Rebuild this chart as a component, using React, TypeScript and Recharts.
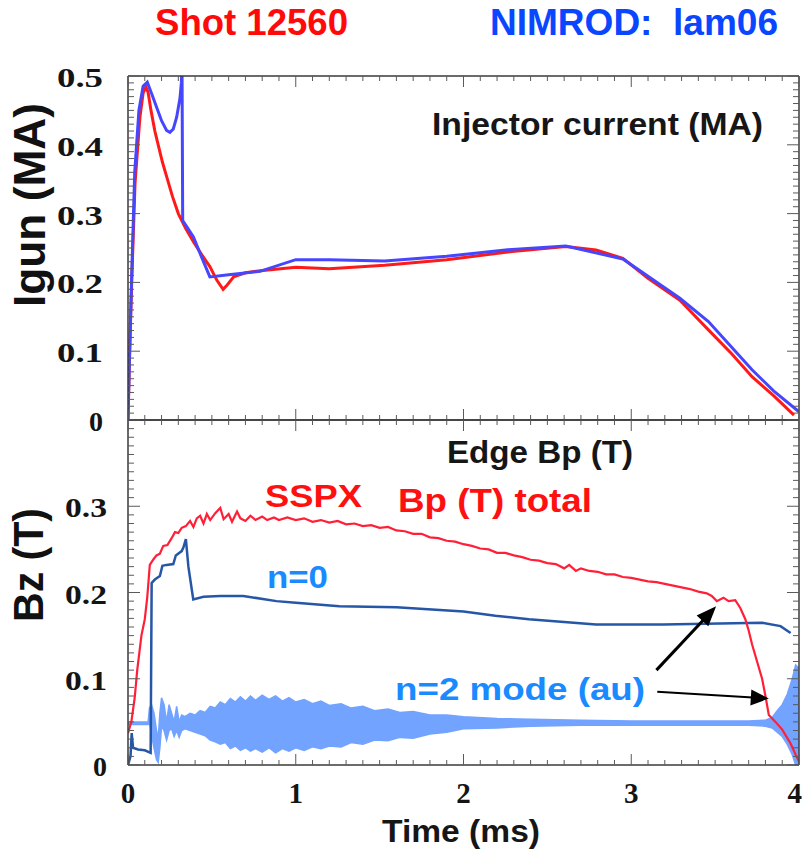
import React from 'react';
import { ComposedChart, Line, Area, XAxis, YAxis, ReferenceLine } from 'recharts';

// ---- Injector current (MA) vs time (ms) ----
const IGUN_SHOT: [number, number][] = [
  [0, 0], [0.01, 0.1], [0.022, 0.2], [0.042, 0.344], [0.071, 0.44], [0.09, 0.475],
  [0.107, 0.484], [0.12, 0.476], [0.137, 0.45], [0.16, 0.42], [0.18, 0.4], [0.205, 0.375],
  [0.23, 0.354], [0.265, 0.325], [0.3, 0.3], [0.345, 0.278], [0.39, 0.259], [0.44, 0.24],
  [0.488, 0.223], [0.53, 0.203], [0.567, 0.19], [0.59, 0.196], [0.63, 0.208], [0.7, 0.214],
  [0.79, 0.217], [1.0, 0.222], [1.2, 0.22], [1.53, 0.225], [1.9, 0.233], [2.29, 0.245],
  [2.61, 0.252], [2.79, 0.247], [2.95, 0.235], [3.1, 0.206], [3.29, 0.174], [3.46, 0.131],
  [3.6, 0.096], [3.72, 0.063], [3.85, 0.035], [3.97, 0.007],
];

const IGUN_NIMROD: [number, number][] = [
  [0, 0], [0.01, 0.1], [0.022, 0.21], [0.04, 0.36], [0.065, 0.45], [0.09, 0.485],
  [0.115, 0.491], [0.14, 0.475], [0.17, 0.455], [0.2, 0.435], [0.23, 0.421], [0.25, 0.418],
  [0.27, 0.423], [0.29, 0.44], [0.31, 0.468], [0.318, 0.49], [0.322, 0.52], [0.326, 0.29],
  [0.35, 0.281], [0.39, 0.266], [0.44, 0.236], [0.488, 0.208], [0.6, 0.211], [0.786, 0.216],
  [1.0, 0.233], [1.2, 0.233], [1.53, 0.231], [1.9, 0.238], [2.29, 0.248], [2.61, 0.253],
  [2.95, 0.234], [3.29, 0.177], [3.46, 0.143], [3.72, 0.073], [3.85, 0.042], [4.0, 0.012],
];

// ---- Edge Bp (T) vs time (ms) ----
const BP_TOTAL: [number, number][] = [
  [0, 0.037], [0.02, 0.05], [0.04, 0.078], [0.055, 0.11], [0.08, 0.15], [0.1, 0.169],
  [0.115, 0.195], [0.13, 0.232], [0.15, 0.238], [0.17, 0.243], [0.19, 0.245], [0.21, 0.254],
  [0.235, 0.255], [0.26, 0.263], [0.28, 0.27], [0.3, 0.269], [0.32, 0.275], [0.345, 0.277],
  [0.37, 0.283], [0.39, 0.276], [0.41, 0.286], [0.43, 0.289], [0.45, 0.28], [0.47, 0.291],
  [0.49, 0.284], [0.52, 0.292], [0.55, 0.298], [0.57, 0.285], [0.6, 0.291], [0.62, 0.282],
  [0.65, 0.294], [0.67, 0.286], [0.7, 0.283], [0.73, 0.289], [0.76, 0.284], [0.8, 0.288],
  [0.83, 0.284], [0.87, 0.287], [0.9, 0.284], [0.95, 0.287], [1.0, 0.284], [1.05, 0.286],
  [1.1, 0.282], [1.15, 0.284], [1.2, 0.281], [1.25, 0.283], [1.3, 0.279], [1.35, 0.28],
  [1.4, 0.277], [1.45, 0.278], [1.5, 0.275], [1.55, 0.276], [1.6, 0.272], [1.65, 0.271],
  [1.7, 0.268], [1.75, 0.268], [1.8, 0.264], [1.85, 0.263], [1.9, 0.26], [1.95, 0.259],
  [2.0, 0.256], [2.05, 0.254], [2.1, 0.251], [2.15, 0.25], [2.2, 0.246], [2.25, 0.246],
  [2.3, 0.243], [2.35, 0.241], [2.4, 0.238], [2.45, 0.237], [2.5, 0.234], [2.55, 0.233],
  [2.6, 0.228], [2.63, 0.232], [2.67, 0.225], [2.7, 0.228], [2.75, 0.225], [2.8, 0.224],
  [2.85, 0.221], [2.9, 0.221], [2.95, 0.218], [3.0, 0.217], [3.05, 0.215], [3.1, 0.213],
  [3.15, 0.212], [3.2, 0.21], [3.25, 0.208], [3.3, 0.206], [3.35, 0.204], [3.4, 0.201],
  [3.45, 0.199], [3.48, 0.196], [3.51, 0.19], [3.55, 0.194], [3.58, 0.19], [3.62, 0.191],
  [3.65, 0.182], [3.68, 0.169], [3.7, 0.156], [3.72, 0.14], [3.75, 0.12], [3.78, 0.1],
  [3.8, 0.08], [3.82, 0.058], [3.86, 0.05], [3.9, 0.041], [3.95, 0.025], [3.98, 0.012],
  [4.0, 0.004],
];

const BP_N0: [number, number][] = [
  [0, 0], [0.015, 0.01], [0.022, 0.037], [0.03, 0.02], [0.06, 0.018], [0.1, 0.017],
  [0.135, 0.014], [0.141, 0.211], [0.16, 0.215], [0.19, 0.219], [0.205, 0.231], [0.23, 0.232],
  [0.27, 0.233], [0.285, 0.243], [0.32, 0.248], [0.33, 0.252], [0.345, 0.262], [0.36, 0.23],
  [0.389, 0.192], [0.45, 0.195], [0.55, 0.196], [0.687, 0.196], [0.885, 0.19], [1.0, 0.188],
  [1.26, 0.184], [1.6, 0.183], [2.0, 0.178], [2.19, 0.173], [2.39, 0.169], [2.79, 0.163],
  [3.19, 0.163], [3.78, 0.165], [3.89, 0.161], [3.95, 0.153],
];

// n=2 mode amplitude: [time, lower envelope, upper envelope]
const BP_N2: [number, number, number][] = [
  [0, 0.047, 0.05], [0.12, 0.047, 0.05], [0.128, 0.05, 0.066], [0.14, 0.035, 0.07],
  [0.155, 0.02, 0.06], [0.17, 0.006, 0.04], [0.18, 0.003, 0.03], [0.19, 0.02, 0.06],
  [0.2, 0.045, 0.078], [0.215, 0.04, 0.07], [0.23, 0.029, 0.05], [0.245, 0.04, 0.07],
  [0.26, 0.042, 0.06], [0.275, 0.033, 0.05], [0.29, 0.04, 0.068], [0.305, 0.032, 0.05],
  [0.32, 0.04, 0.058], [0.34, 0.042, 0.056], [0.37, 0.04, 0.06], [0.4, 0.038, 0.058],
  [0.43, 0.036, 0.063], [0.46, 0.034, 0.061], [0.49, 0.029, 0.068], [0.52, 0.027, 0.066],
  [0.55, 0.024, 0.073], [0.58, 0.026, 0.07], [0.61, 0.019, 0.077], [0.64, 0.022, 0.073],
  [0.67, 0.017, 0.079], [0.7, 0.02, 0.074], [0.73, 0.016, 0.08], [0.76, 0.019, 0.075],
  [0.8, 0.015, 0.081], [0.84, 0.02, 0.076], [0.88, 0.014, 0.08], [0.92, 0.019, 0.074],
  [0.96, 0.016, 0.078], [1.0, 0.02, 0.073], [1.05, 0.017, 0.076], [1.1, 0.021, 0.071],
  [1.15, 0.019, 0.074], [1.2, 0.022, 0.069], [1.27, 0.021, 0.071], [1.33, 0.026, 0.066],
  [1.4, 0.024, 0.068], [1.47, 0.029, 0.063], [1.55, 0.028, 0.065], [1.62, 0.032, 0.061],
  [1.7, 0.031, 0.062], [1.8, 0.036, 0.058], [1.9, 0.038, 0.058], [2.0, 0.042, 0.056],
  [2.2, 0.043, 0.054], [2.4, 0.045, 0.053], [2.7, 0.046, 0.052], [3.0, 0.046, 0.051],
  [3.4, 0.046, 0.051], [3.7, 0.046, 0.051], [3.8, 0.045, 0.052], [3.84, 0.043, 0.055],
  [3.87, 0.038, 0.063], [3.9, 0.033, 0.07], [3.93, 0.024, 0.082], [3.96, 0.012, 0.1],
  [3.98, 0, 0.116], [4.0, 0, 0.112],
];

// ---- Axes ----
const X_MAJOR = [0, 1, 2, 3, 4];
const X_TICK_LABELS = ['0', '1', '2', '3', '4'];
const Y_TOP_MAJOR = [0, 0.1, 0.2, 0.3, 0.4, 0.5];
const Y_TOP_LABELS = ['0', '0.1', '0.2', '0.3', '0.4', '0.5'];
const Y_BOT_MAJOR = [0, 0.1, 0.2, 0.3, 0.4];
const Y_BOT_LABELS = ['0', '0.1', '0.2', '0.3', ''];

const X_MINOR = Array.from({ length: 41 }, (_, i) => i / 10);
const Y_TOP_MINOR = Array.from({ length: 51 }, (_, i) => i / 100);
const Y_BOT_MINOR = Array.from({ length: 41 }, (_, i) => i / 100);

const W = 803;
const H = 853;
const TOP_Y0 = 76;
const MID_Y = 420;
const BOT_Y1 = 765;
const LEFT = 128;
const RIGHT_W = 4;

const FRAME = '#3a3a3a';
const TICK = '#5a5a5a';
const SERIF = '"Liberation Serif", "Times New Roman", serif';
const SANS = '"Liberation Sans", Arial, sans-serif';

const pairRows = (pts: [number, number][]) => pts.map(([t, v]) => ({ t, v }));
const rangeRows = (pts: [number, number, number][]) => pts.map(([t, lo, hi]) => ({ t, r: [lo, hi] }));

const near = (a: number, b: number) => Math.abs(a - b) < 1e-6;

const makeXTick = (dir: 1 | -1, labels: boolean) => (p: any) => {
  const { x, y, payload } = p;
  const idx = X_MAJOR.findIndex((m) => near(m, payload.value));
  const major = idx >= 0;
  const len = major ? 11 : 5;
  const last = idx === X_MAJOR.length - 1;
  return (
    <g>
      <line x1={x} y1={y} x2={x} y2={y + dir * len} stroke={TICK} strokeWidth={1} />
      {labels && major && (
        <text x={last ? W - 1 : x} y={y + 38} textAnchor={last ? 'end' : 'middle'} fontFamily={SERIF}
          fontWeight="bold" fontSize={29} fill="#141414">
          {X_TICK_LABELS[idx]}
        </text>
      )}
    </g>
  );
};

const makeYTick = (dir: 1 | -1, majors: number[], texts: string[] | null, gap: number, span: number) => (p: any) => {
  const { x, y, payload } = p;
  const idx = majors.findIndex((m) => near(m, payload.value));
  const major = idx >= 0;
  const len = major ? 12 : 6;
  const label = texts && major ? texts[idx] : '';
  return (
    <g>
      <line x1={x} y1={y} x2={x + dir * len} y2={y} stroke={TICK} strokeWidth={1} />
      {label !== '' && (
        <text
          x={x - gap}
          y={y + 11}
          textAnchor="end"
          fontFamily={SERIF}
          fontWeight="bold"
          fontSize={28}
          fill="#141414"
          {...(label.length > 1 ? { textLength: span, lengthAdjust: 'spacingAndGlyphs' } : {})}
        >
          {label}
        </text>
      )}
    </g>
  );
};

const arrowShape = (w: number, head: number, half: number) => (p: any) => {
  const { x1, y1, x2, y2 } = p;
  const dx = x2 - x1;
  const dy = y2 - y1;
  const L = Math.hypot(dx, dy) || 1;
  const ux = dx / L;
  const uy = dy / L;
  const bx = x2 - ux * head;
  const by = y2 - uy * head;
  const pts = `${x2},${y2} ${bx - uy * half},${by + ux * half} ${bx + uy * half},${by - ux * half}`;
  return (
    <g>
      <line x1={x1} y1={y1} x2={bx + ux * 2} y2={by + uy * 2} stroke="#000" strokeWidth={w} />
      <polygon points={pts} fill="#000" />
    </g>
  );
};

const axisLine = { stroke: FRAME, strokeWidth: 1.5 };

function InjectorPanel() {
  return (
    <ComposedChart width={W} height={H} margin={{ top: 0, right: 0, bottom: 0, left: 0 }}>
      <XAxis xAxisId="b" dataKey="t" type="number" domain={[0, 4]} allowDataOverflow orientation="bottom"
        height={H - MID_Y} ticks={X_MINOR} interval={0} tickSize={0} tickMargin={0} axisLine={axisLine}
        tickLine={false} tick={makeXTick(-1, false)} />
      <XAxis xAxisId="t" dataKey="t" type="number" domain={[0, 4]} allowDataOverflow orientation="top"
        height={TOP_Y0} ticks={X_MINOR} interval={0} tickSize={0} tickMargin={0} axisLine={axisLine}
        tickLine={false} tick={makeXTick(1, false)} />
      <YAxis yAxisId="l" type="number" domain={[0, 0.5]} allowDataOverflow orientation="left" width={LEFT}
        ticks={Y_TOP_MINOR} interval={0} tickSize={0} tickMargin={0} axisLine={axisLine} tickLine={false}
        tick={makeYTick(1, Y_TOP_MAJOR, Y_TOP_LABELS, 25, 46)} />
      <YAxis yAxisId="r" type="number" domain={[0, 0.5]} allowDataOverflow orientation="right" width={RIGHT_W}
        ticks={Y_TOP_MINOR} interval={0} tickSize={0} tickMargin={0} axisLine={axisLine} tickLine={false}
        tick={makeYTick(-1, Y_TOP_MAJOR, null, 0, 0)} />
      <Line xAxisId="b" yAxisId="l" data={pairRows(IGUN_SHOT)} dataKey="v" type="linear" stroke="#ff1a1a"
        strokeWidth={3} dot={false} isAnimationActive={false} />
      <Line xAxisId="b" yAxisId="l" data={pairRows(IGUN_NIMROD)} dataKey="v" type="linear" stroke="#4646ff"
        strokeWidth={3} dot={false} isAnimationActive={false} />
    </ComposedChart>
  );
}

function EdgeFieldPanel() {
  return (
    <ComposedChart width={W} height={H} margin={{ top: 0, right: 0, bottom: 0, left: 0 }}>
      <XAxis xAxisId="b" dataKey="t" type="number" domain={[0, 4]} allowDataOverflow orientation="bottom"
        height={H - BOT_Y1} ticks={X_MINOR} interval={0} tickSize={0} tickMargin={0} axisLine={axisLine}
        tickLine={false} tick={makeXTick(-1, true)} />
      <XAxis xAxisId="t" dataKey="t" type="number" domain={[0, 4]} allowDataOverflow orientation="top"
        height={MID_Y} ticks={X_MINOR} interval={0} tickSize={0} tickMargin={0} axisLine={axisLine}
        tickLine={false} tick={makeXTick(1, false)} />
      <YAxis yAxisId="l" type="number" domain={[0, 0.4]} allowDataOverflow orientation="left" width={LEFT}
        ticks={Y_BOT_MINOR} interval={0} tickSize={0} tickMargin={0} axisLine={axisLine} tickLine={false}
        tick={makeYTick(1, Y_BOT_MAJOR, Y_BOT_LABELS, 21, 42)} />
      <YAxis yAxisId="r" type="number" domain={[0, 0.4]} allowDataOverflow orientation="right" width={RIGHT_W}
        ticks={Y_BOT_MINOR} interval={0} tickSize={0} tickMargin={0} axisLine={axisLine} tickLine={false}
        tick={makeYTick(-1, Y_BOT_MAJOR, null, 0, 0)} />
      <Area xAxisId="b" yAxisId="l" data={rangeRows(BP_N2)} dataKey="r" type="linear" stroke="#72a3ff"
        strokeWidth={1.5} fill="#72a3ff" fillOpacity={1} dot={false} activeDot={false} isAnimationActive={false} />
      <Line xAxisId="b" yAxisId="l" data={pairRows(BP_N0)} dataKey="v" type="linear" stroke="#2656a6"
        strokeWidth={2.5} dot={false} isAnimationActive={false} />
      <Line xAxisId="b" yAxisId="l" data={pairRows(BP_TOTAL)} dataKey="v" type="linear" stroke="#ff2038"
        strokeWidth={2.2} dot={false} isAnimationActive={false} />
      <ReferenceLine xAxisId="b" yAxisId="l" ifOverflow="visible"
        segment={[{ x: 3.15, y: 0.11 }, { x: 3.506, y: 0.184 }]} shape={arrowShape(3, 20, 8)} />
      <ReferenceLine xAxisId="b" yAxisId="l" ifOverflow="visible"
        segment={[{ x: 3.155, y: 0.085 }, { x: 3.82, y: 0.077 }]} shape={arrowShape(2, 18, 8)} />
    </ComposedChart>
  );
}

function Annotations() {
  return (
    <svg width={W} height={H} style={{ position: 'absolute', left: 0, top: 0, pointerEvents: 'none' }}>
      <g fontFamily={SANS} fontWeight="bold">
        <text x={155} y={35} fontSize={37} fill="#ff0a0a" textLength={193} lengthAdjust="spacingAndGlyphs">Shot 12560</text>
        <text x={490} y={35} fontSize={37} fill="#0a46ff" textLength={288} lengthAdjust="spacingAndGlyphs" xmlSpace="preserve">NIMROD:  lam06</text>
        <text transform="translate(45,205) rotate(-90)" textAnchor="middle" fontSize={44} fill="#111"
          textLength={204} lengthAdjust="spacingAndGlyphs">Igun (MA)</text>
        <text transform="translate(43,565) rotate(-90)" textAnchor="middle" fontSize={42} fill="#111"
          textLength={114} lengthAdjust="spacingAndGlyphs">Bz (T)</text>
        <text x={432} y={135} fontSize={32} fill="#161616" textLength={331} lengthAdjust="spacingAndGlyphs">Injector current (MA)</text>
        <text x={447} y={463} fontSize={32} fill="#161616" textLength={186} lengthAdjust="spacingAndGlyphs">Edge Bp (T)</text>
        <text x={265} y={507} fontSize={32} fill="#ff1010" textLength={97} lengthAdjust="spacingAndGlyphs">SSPX</text>
        <text x={398} y={512} fontSize={33} fill="#ff1010" textLength={194} lengthAdjust="spacingAndGlyphs">Bp (T) total</text>
        <text x={267} y={588} fontSize={31} fill="#1a8aff" textLength={61} lengthAdjust="spacingAndGlyphs">n=0</text>
        <text x={395} y={700} fontSize={31} fill="#1a8aff" textLength={250} lengthAdjust="spacingAndGlyphs">n=2 mode (au)</text>
        <text x={382} y={842} fontSize={31} fill="#161616" textLength={158} lengthAdjust="spacingAndGlyphs">Time (ms)</text>
      </g>
    </svg>
  );
}

export default function App() {
  return (
    <div style={{ position: 'absolute', left: 0, top: 0, width: W, height: H, background: '#fff', overflow: 'hidden' }}>
      <div style={{ position: 'absolute', left: 0, top: 0 }}>
        <InjectorPanel />
      </div>
      <div style={{ position: 'absolute', left: 0, top: 0 }}>
        <EdgeFieldPanel />
      </div>
      <Annotations />
    </div>
  );
}
